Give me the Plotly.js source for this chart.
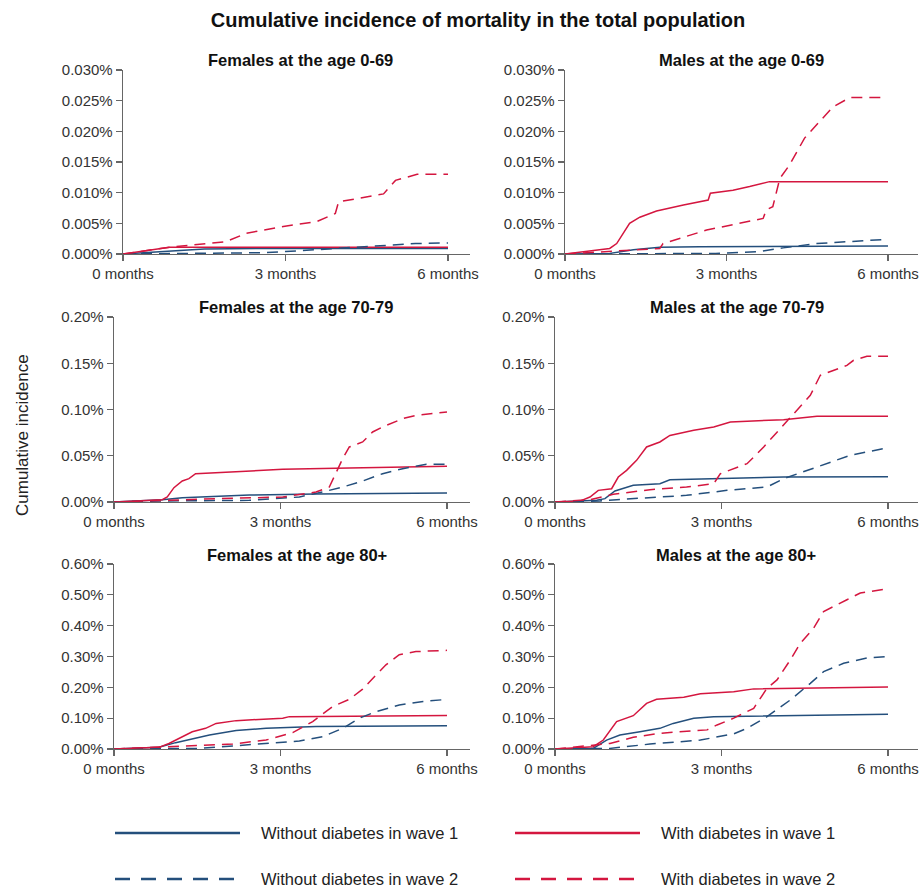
<!DOCTYPE html>
<html>
<head>
<meta charset="utf-8">
<script src="https://cdn.plot.ly/plotly-3.0.1.min.js"></script>
<style>html,body{margin:0;padding:0;background:#fff;}#chart{width:920px;height:890px;}</style>
</head>
<body>
<div id="chart"></div>
<script>
// ---------- DATA (months, cumulative incidence in %) ----------
// Females 0-69
const f069_w1_no_x  = [0, 0.5, 1.0, 1.5, 2.5, 4.0, 6.0];
const f069_w1_no_y  = [0, 0.0003, 0.0006, 0.0008, 0.0009, 0.0009, 0.0009];
const f069_w1_dm_x  = [0, 0.5, 0.86, 1.5, 3.0, 6.0];
const f069_w1_dm_y  = [0, 0.0006, 0.0011, 0.0011, 0.0011, 0.0011];
const f069_w2_no_x  = [0, 1.0, 2.5, 3.0, 3.8, 4.57, 5.4, 6.0];
const f069_w2_no_y  = [0, 0.0001, 0.0002, 0.0004, 0.0008, 0.0013, 0.0017, 0.0018];
const f069_w2_dm_x  = [0, 0.86, 1.9, 2.28, 2.96, 3.58, 3.92, 3.98, 4.81, 5.03, 5.43, 6.0];
const f069_w2_dm_y  = [0, 0.0011, 0.002, 0.0034, 0.0045, 0.0053, 0.0066, 0.0085, 0.0098, 0.012, 0.013, 0.013];

// Males 0-69
const m069_w1_no_x  = [0, 0.83, 1.27, 1.76, 2.5, 6.0];
const m069_w1_no_y  = [0, 0.0001, 0.0007, 0.0011, 0.0012, 0.0013];
const m069_w1_dm_x  = [0, 0.83, 0.96, 1.2, 1.39, 1.7, 2.2, 2.66, 2.7, 3.12, 3.43, 3.8, 6.0];
const m069_w1_dm_y  = [0, 0.0009, 0.0017, 0.005, 0.006, 0.007, 0.008, 0.0088, 0.0099, 0.0104, 0.011, 0.0118, 0.0118];
const m069_w2_no_x  = [0, 2.8, 3.6, 4.05, 4.67, 5.29, 6.0];
const m069_w2_no_y  = [0, 0.0001, 0.0004, 0.001, 0.0017, 0.002, 0.0024];
const m069_w2_dm_x  = [0, 0.83, 1.76, 1.82, 2.63, 3.68, 3.74, 3.86, 3.99, 4.17, 4.45, 4.73, 4.98, 5.29, 5.87];
const m069_w2_dm_y  = [0, 0.0004, 0.0009, 0.0017, 0.0039, 0.0058, 0.0072, 0.0077, 0.0123, 0.0145, 0.0189, 0.0216, 0.024, 0.0255, 0.0255];

// Females 70-79
const f7079_w1_no_x = [0, 0.87, 1.23, 2.44, 3.64, 4.84, 6.0];
const f7079_w1_no_y = [0, 0.0025, 0.0047, 0.0076, 0.0086, 0.0094, 0.0097];
const f7079_w1_dm_x = [0, 0.87, 0.96, 1.08, 1.23, 1.35, 1.47, 2.44, 3.04, 4.24, 6.0];
const f7079_w1_dm_y = [0, 0.0025, 0.0054, 0.0155, 0.0227, 0.0252, 0.0306, 0.0332, 0.0353, 0.0368, 0.0386];
const f7079_w2_no_x = [0, 0.87, 2.44, 3.34, 3.76, 4.12, 4.48, 4.84, 5.2, 5.63, 6.0];
const f7079_w2_no_y = [0, 0.0011, 0.0018, 0.0054, 0.0108, 0.0162, 0.0227, 0.0306, 0.036, 0.0407, 0.0407];
const f7079_w2_dm_x = [0, 0.87, 1.84, 3.04, 3.4, 3.64, 3.88, 4.0, 4.12, 4.24, 4.48, 4.66, 4.84, 5.2, 5.44, 6.0];
const f7079_w2_dm_y = [0, 0.0018, 0.0036, 0.0054, 0.0083, 0.0108, 0.0162, 0.0324, 0.0468, 0.0595, 0.0649, 0.0757, 0.0811, 0.0901, 0.0937, 0.0973];

// Males 70-79
const m7079_w1_no_x = [0, 0.75, 0.9, 1.08, 1.41, 1.89, 2.07, 3.22, 4.12, 6.0];
const m7079_w1_no_y = [0, 0.0018, 0.0036, 0.0119, 0.018, 0.0198, 0.0241, 0.0256, 0.027, 0.0274];
const m7079_w1_dm_x = [0, 0.45, 0.63, 0.78, 1.02, 1.14, 1.29, 1.47, 1.65, 1.89, 2.07, 2.5, 2.86, 3.16, 4.12, 4.72, 6.0];
const m7079_w1_dm_y = [0, 0.001, 0.0054, 0.0126, 0.0144, 0.027, 0.0342, 0.045, 0.0595, 0.0649, 0.072, 0.0775, 0.081, 0.0865, 0.089, 0.0926, 0.0926];
const m7079_w2_no_x = [0, 0.81, 1.11, 2.37, 3.1, 3.82, 4.12, 4.72, 5.32, 6.0];
const m7079_w2_no_y = [0, 0.0011, 0.0025, 0.0072, 0.0126, 0.0162, 0.0252, 0.0378, 0.0505, 0.0587];
const m7079_w2_dm_x = [0, 0.63, 1.05, 1.71, 2.37, 2.86, 2.98, 3.22, 3.46, 3.76, 4.0, 4.3, 4.6, 4.78, 5.02, 5.26, 5.38, 5.62, 6.0];
const m7079_w2_dm_y = [0, 0.0025, 0.0083, 0.0133, 0.0162, 0.0198, 0.0306, 0.036, 0.0414, 0.0595, 0.0757, 0.0955, 0.1153, 0.137, 0.1423, 0.1477, 0.1532, 0.1575, 0.1575];

// Females 80+
const f80_w1_no_x   = [0, 0.81, 1.11, 1.47, 1.72, 2.2, 2.74, 3.64, 6.0];
const f80_w1_no_y   = [0, 0.0054, 0.0206, 0.0347, 0.0455, 0.0596, 0.0672, 0.0726, 0.0758];
const f80_w1_dm_x   = [0, 0.81, 0.99, 1.23, 1.41, 1.65, 1.84, 2.2, 2.56, 3.04, 3.16, 4.24, 6.0];
const f80_w1_dm_y   = [0, 0.0054, 0.018, 0.04, 0.056, 0.067, 0.083, 0.092, 0.096, 0.1, 0.105, 0.107, 0.109];
const f80_w2_no_x   = [0, 1.53, 2.14, 2.74, 3.34, 3.76, 4.12, 4.42, 4.72, 5.14, 5.57, 6.0];
const f80_w2_no_y   = [0, 0.002, 0.0098, 0.018, 0.026, 0.04, 0.067, 0.1, 0.121, 0.143, 0.154, 0.161];
const f80_w2_dm_x   = [0, 0.81, 1.23, 2.14, 2.74, 3.22, 3.58, 3.94, 4.24, 4.48, 4.72, 4.9, 5.14, 5.44, 6.0];
const f80_w2_dm_y   = [0, 0.0054, 0.0098, 0.0163, 0.029, 0.053, 0.089, 0.138, 0.161, 0.194, 0.24, 0.273, 0.306, 0.316, 0.32];

// Males 80+
const m80_w1_no_x   = [0, 0.69, 0.93, 1.17, 1.53, 1.89, 2.13, 2.5, 2.86, 3.82, 6.0];
const m80_w1_no_y   = [0, 0.002, 0.029, 0.0455, 0.0563, 0.067, 0.083, 0.0997, 0.105, 0.108, 0.1127];
const m80_w1_dm_x   = [0, 0.69, 0.87, 0.99, 1.11, 1.41, 1.65, 1.83, 2.32, 2.62, 3.22, 3.58, 6.0];
const m80_w1_dm_y   = [0, 0.0076, 0.029, 0.06, 0.089, 0.108, 0.148, 0.161, 0.168, 0.179, 0.186, 0.195, 0.201];
const m80_w2_no_x   = [0, 0.99, 1.71, 2.62, 3.22, 3.46, 3.82, 4.24, 4.6, 4.84, 5.2, 5.62, 6.0];
const m80_w2_no_y   = [0, 0.002, 0.016, 0.029, 0.049, 0.067, 0.105, 0.159, 0.213, 0.251, 0.278, 0.295, 0.30];
const m80_w2_dm_x   = [0, 0.99, 1.41, 1.89, 2.74, 2.92, 3.22, 3.58, 3.82, 4.0, 4.24, 4.42, 4.66, 4.84, 5.26, 5.5, 6.0];
const m80_w2_dm_y   = [0, 0.018, 0.038, 0.051, 0.062, 0.078, 0.10, 0.132, 0.197, 0.224, 0.289, 0.343, 0.392, 0.446, 0.484, 0.506, 0.52];

// Labels
const panelTitles = ["Females at the age 0-69", "Males at the age 0-69",
                     "Females at the age 70-79", "Males at the age 70-79",
                     "Females at the age 80+", "Males at the age 80+"];
const seriesNames = ["Without diabetes in wave 1", "With diabetes in wave 1",
                     "Without diabetes in wave 2", "With diabetes in wave 2"];
const xTickVals = [0, 3, 6];
const xTickText = ["0 months", "3 months", "6 months"];
const mainTitle = "Cumulative incidence of mortality in the total population";
const yTitle = "Cumulative incidence";

// ---------- STYLE / LAYOUT ----------
const BLUE = '#244f7c', RED = '#d4163f';
const W = 920, H = 890;
const FONT = 'Liberation Sans, Arial, sans-serif';
const panels = [
  {data: [[f069_w1_no_x,f069_w1_no_y],[f069_w1_dm_x,f069_w1_dm_y],[f069_w2_no_x,f069_w2_no_y],[f069_w2_dm_x,f069_w2_dm_y]],
   px:[123,448,470], py:[70,254], ymax:0.030, dtick:0.005, fmt:'.3f', tx:300, ty:60},
  {data: [[m069_w1_no_x,m069_w1_no_y],[m069_w1_dm_x,m069_w1_dm_y],[m069_w2_no_x,m069_w2_no_y],[m069_w2_dm_x,m069_w2_dm_y]],
   px:[565,888,918], py:[70,254], ymax:0.030, dtick:0.005, fmt:'.3f', tx:741, ty:60},
  {data: [[f7079_w1_no_x,f7079_w1_no_y],[f7079_w1_dm_x,f7079_w1_dm_y],[f7079_w2_no_x,f7079_w2_no_y],[f7079_w2_dm_x,f7079_w2_dm_y]],
   px:[114,447,470], py:[317,502], ymax:0.20, dtick:0.05, fmt:'.2f', tx:296, ty:307},
  {data: [[m7079_w1_no_x,m7079_w1_no_y],[m7079_w1_dm_x,m7079_w1_dm_y],[m7079_w2_no_x,m7079_w2_no_y],[m7079_w2_dm_x,m7079_w2_dm_y]],
   px:[555,888,918], py:[317,502], ymax:0.20, dtick:0.05, fmt:'.2f', tx:737, ty:307},
  {data: [[f80_w1_no_x,f80_w1_no_y],[f80_w1_dm_x,f80_w1_dm_y],[f80_w2_no_x,f80_w2_no_y],[f80_w2_dm_x,f80_w2_dm_y]],
   px:[114,447,470], py:[564,749], ymax:0.60, dtick:0.10, fmt:'.2f', tx:297, ty:555},
  {data: [[m80_w1_no_x,m80_w1_no_y],[m80_w1_dm_x,m80_w1_dm_y],[m80_w2_no_x,m80_w2_no_y],[m80_w2_dm_x,m80_w2_dm_y]],
   px:[555,888,918], py:[564,749], ymax:0.60, dtick:0.10, fmt:'.2f', tx:736, ty:555}
];
const seriesStyle = [
  {color: BLUE, dash: 'solid'},
  {color: RED,  dash: 'solid'},
  {color: BLUE, dash: '11px,7px'},
  {color: RED,  dash: '11px,7px'}
];

const traces = [];
const layout = {
  width: W, height: H,
  margin: {l:0, r:0, t:0, b:0},
  paper_bgcolor: '#fff', plot_bgcolor: '#fff',
  showlegend: false,
  font: {family: FONT, color: '#333'},
  title: {text: '<b>' + mainTitle + '</b>', x: 478/W, xanchor: 'center', y: 1 - 20/H, yanchor: 'middle',
          font: {size: 20, color: '#111', family: FONT}},
  annotations: [],
  shapes: []
};

const tickFont = {size: 15, color: '#333', family: FONT};

panels.forEach((p, i) => {
  const k = i + 1;
  const xa = 'x' + (k === 1 ? '' : k), ya = 'y' + (k === 1 ? '' : k);
  const xRangeEnd = 6 * (p.px[2] - p.px[0]) / (p.px[1] - p.px[0]);
  layout['xaxis' + (k === 1 ? '' : k)] = {
    domain: [p.px[0]/W, p.px[2]/W], range: [0, xRangeEnd], anchor: ya,
    showgrid: false, zeroline: false, showline: true, linecolor: '#666', linewidth: 1.3,
    ticks: 'outside', ticklen: 6, tickcolor: '#666', tickwidth: 1.3,
    tickmode: 'array', tickvals: xTickVals, ticktext: xTickText, tickfont: tickFont, fixedrange: true
  };
  layout['yaxis' + (k === 1 ? '' : k)] = {
    domain: [1 - p.py[1]/H, 1 - p.py[0]/H], range: [0, p.ymax], anchor: xa,
    showgrid: false, zeroline: false, showline: true, linecolor: '#666', linewidth: 1.3,
    ticks: 'outside', ticklen: 6, tickcolor: '#666', tickwidth: 1.3,
    tick0: 0, dtick: p.dtick, tickformat: p.fmt, ticksuffix: '%', tickfont: tickFont, fixedrange: true
  };
  p.data.forEach((s, j) => {
    traces.push({
      type: 'scatter', mode: 'lines', x: s[0], y: s[1], xaxis: xa, yaxis: ya,
      name: seriesNames[j], cliponaxis: false,
      line: {color: seriesStyle[j].color, width: 1.5, dash: seriesStyle[j].dash, shape: 'linear'},
      hoverinfo: 'skip'
    });
  });
  layout.annotations.push({
    text: '<b>' + panelTitles[i] + '</b>', xref: 'paper', yref: 'paper',
    x: p.tx/W, y: 1 - p.ty/H, xanchor: 'center', yanchor: 'middle', showarrow: false,
    font: {size: 16.5, color: '#111', family: FONT}
  });
});

// y axis title
layout.annotations.push({
  text: yTitle, xref: 'paper', yref: 'paper', x: 22/W, y: 1 - 435/H,
  xanchor: 'center', yanchor: 'middle', textangle: -90, showarrow: false,
  font: {size: 17, color: '#222', family: FONT}
});

// legend (manual, 2x2)
const legPos = [[115, 833], [515, 833], [115, 879], [515, 879]];
seriesNames.forEach((nm, j) => {
  const [lx, ly] = legPos[j];
  layout.shapes.push({
    type: 'line', xref: 'paper', yref: 'paper',
    x0: lx/W, x1: (lx + 125)/W, y0: 1 - ly/H, y1: 1 - ly/H,
    line: {color: seriesStyle[j].color, width: 2.5, dash: seriesStyle[j].dash === 'solid' ? 'solid' : '15px,11px'}
  });
  layout.annotations.push({
    text: nm, xref: 'paper', yref: 'paper', x: (lx + 144)/W, y: 1 - ly/H,
    xanchor: 'left', yanchor: 'middle', showarrow: false,
    font: {size: 16.5, color: '#222', family: FONT}
  });
});

Plotly.newPlot('chart', traces, layout, {displayModeBar: false, staticPlot: true});
</script>
</body>
</html>
